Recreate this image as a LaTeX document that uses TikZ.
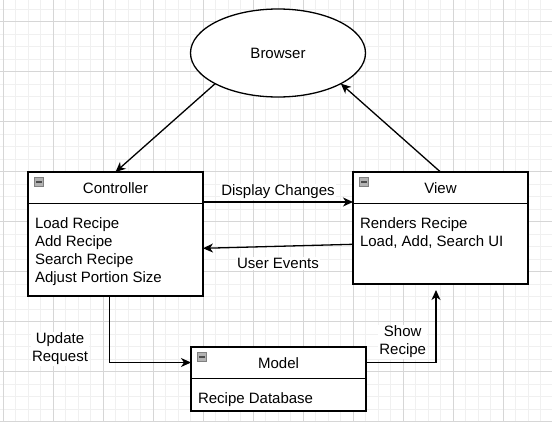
\documentclass[tikz,border=0pt]{standalone}
\usepackage{fontspec}
\setmainfont{Liberation Sans}
\usetikzlibrary{arrows.meta,shapes,calc,positioning}
\begin{document}
\begin{tikzpicture}[x=1pt, y=-1pt]
		\tikzstyle{every node}=[font=\fontsize{15}{18}\selectfont, inner sep=0pt, outer sep=0pt]
		\tikzstyle{minorgrid}=[line width=0.8pt, color=black!6]
		\tikzstyle{majorgrid}=[line width=0.8pt, color=black!16]
		\tikzstyle{umlbox}=[draw, line width=1.3pt, rectangle, minimum width=175pt, fill=white]
		\tikzstyle{icon}=[draw=black!50, fill=black!30, line width=0.6pt, minimum size=9.5pt,
			path picture={\draw[black!70, line width=1.5pt] ([xshift=-3pt]path picture bounding box.center) -- ([xshift=3pt]path picture bounding box.center);}]
		\tikzstyle{arr}=[line width=1.3pt, ->, >={Stealth[length=10pt, width=9pt, inset=3pt]}]
		\tikzstyle{lbl}=[fill=white, align=center, inner sep=1pt]
		\fill [white] (0,0) rectangle (552,421);
		\useasboundingbox (0,0) rectangle (552,421);
		\foreach \i in {0,...,45} \draw [minorgrid] ({-9.2+12.5*\i},0) -- ++(0,421);
		\foreach \i in {0,...,33} \draw [minorgrid] (0,{9.2+12.5*\i}) -- ++(552,0);
		\foreach \i in {0,...,11} \draw [majorgrid] ({3.3+50*\i},0) -- ++(0,421);
		\foreach \i in {0,...,8} \draw [majorgrid] (0,{21.7+50*\i}) -- ++(552,0);
		\node [draw, ellipse, line width=1.3pt, fill=white, minimum width=175pt, minimum height=88pt] (browser) at (278,53) {Browser};
		\node [umlbox, minimum height=124pt] (ctrl) at (115.5,234) {};
		\node [umlbox, minimum height=112pt] (view) at (440.5,228) {};
		\node [umlbox, minimum height=64pt] (model) at (278.5,379) {};
		\draw [line width=1.3pt] ([yshift=-31.5pt]ctrl.north west) -- ([yshift=-31.5pt]ctrl.north east);
		\draw [line width=1.3pt] ([yshift=-31.5pt]view.north west) -- ([yshift=-31.5pt]view.north east);
		\draw [line width=1.3pt] ([yshift=-31.5pt]model.north west) -- ([yshift=-31.5pt]model.north east);
		\node [icon] (ctrlicon) at ([xshift=11pt, yshift=-10pt]ctrl.north west) {};
		\node [icon] (viewicon) at ([xshift=11pt, yshift=-10pt]view.north west) {};
		\node [icon] (modelicon) at ([xshift=11pt, yshift=-10pt]model.north west) {};
		\node (ctrltitle) at ([yshift=-16pt]ctrl.north) {Controller};
		\node (viewtitle) at ([yshift=-16pt]view.north) {View};
		\node (modeltitle) at ([yshift=-16pt]model.north) {Model};
		\node [anchor=north west, align=left] (ctrlbody) at ([xshift=7pt, yshift=-45.5pt]ctrl.north west) {Load Recipe\\Add Recipe\\Search Recipe\\Adjust Portion Size};
		\node [anchor=north west, align=left] (viewbody) at ([xshift=7pt, yshift=-45.5pt]view.north west) {Renders Recipe\\Load, Add, Search UI};
		\node [anchor=north west, align=left] (modelbody) at ([xshift=7pt, yshift=-45.5pt]model.north west) {Recipe Database};
		\draw [arr] (browser.206.5) -- (ctrl.north);
		\draw [arr] (view.north) -- (browser.334.6);
		\draw [arr] ([yshift=-30pt]ctrl.north east) -- ([yshift=-30pt]view.north west) node [lbl, midway, above=2pt] {Display Changes};
		\draw [arr] ([yshift=-16.3pt]view.west) -- ([yshift=-14.3pt]ctrl.east) node [lbl, midway, below=11pt] {User Events};
		\draw [arr] ([xshift=-6pt]ctrl.south) |- ([yshift=16.5pt]model.west);
		\draw [arr, shorten >=6pt] ([yshift=16.5pt]model.east) -| ([xshift=-4.5pt]view.south);
		\node [lbl] (updlbl) at (60,349) {Update\\Request};
		\node [lbl] (showlbl) at (402.7,342) {Show\\Recipe};
	\end{tikzpicture}
\end{document}
